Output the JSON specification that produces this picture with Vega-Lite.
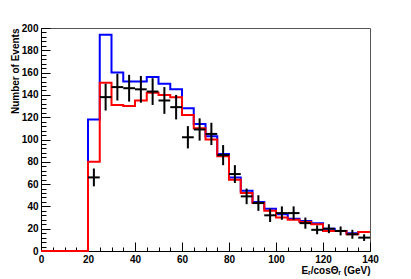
{
  "$schema": "https://vega.github.io/schema/vega-lite/v6.json",
  "width": 329,
  "height": 223,
  "autosize": {"type": "none"},
  "padding": {"left": 41, "top": 28, "right": 41, "bottom": 28},
  "background": "white",
  "config": {
    "view": {"stroke": "#555555", "strokeWidth": 1},
    "axis": {
      "grid": false,
      "domainColor": "black",
      "domainWidth": 1,
      "tickColor": "black",
      "tickWidth": 1,
      "labelFont": "Liberation Sans",
      "labelFontWeight": "bold",
      "labelFontSize": 10,
      "labelColor": "black",
      "labelFlush": false,
      "labelOverlap": false,
      "titleFont": "Liberation Sans",
      "titleFontWeight": "bold",
      "titleFontSize": 10,
      "titleColor": "black"
    }
  },
  "datasets": {
    "hist": [
      {"x": 0, "blue": 0, "red": 0},
      {"x": 5, "blue": 0, "red": 0},
      {"x": 10, "blue": 0, "red": 0},
      {"x": 15, "blue": 0, "red": 0},
      {"x": 20, "blue": 118, "red": 80},
      {"x": 25, "blue": 194, "red": 151},
      {"x": 30, "blue": 160, "red": 131},
      {"x": 35, "blue": 152, "red": 130},
      {"x": 40, "blue": 152, "red": 135},
      {"x": 45, "blue": 156, "red": 142},
      {"x": 50, "blue": 150, "red": 140},
      {"x": 55, "blue": 145, "red": 138},
      {"x": 60, "blue": 128, "red": 122},
      {"x": 65, "blue": 114, "red": 110},
      {"x": 70, "blue": 103, "red": 100},
      {"x": 75, "blue": 87, "red": 85},
      {"x": 80, "blue": 66, "red": 64},
      {"x": 85, "blue": 54, "red": 52},
      {"x": 90, "blue": 44, "red": 43},
      {"x": 95, "blue": 38, "red": 36},
      {"x": 100, "blue": 33, "red": 30},
      {"x": 105, "blue": 29, "red": 28},
      {"x": 110, "blue": 27, "red": 26},
      {"x": 115, "blue": 25, "red": 24},
      {"x": 120, "blue": 20, "red": 18},
      {"x": 125, "blue": 18, "red": 18},
      {"x": 130, "blue": 16, "red": 15},
      {"x": 135, "blue": 17, "red": 17},
      {"x": 140, "blue": 17, "red": 17}
    ],
    "pts": [
      {"c": 22.5, "lo": 20, "hi": 25, "n": 66, "ylo": 58, "yhi": 74},
      {"c": 27.5, "lo": 25, "hi": 30, "n": 138, "ylo": 126, "yhi": 150},
      {"c": 32.5, "lo": 30, "hi": 35, "n": 147, "ylo": 135, "yhi": 159},
      {"c": 37.5, "lo": 35, "hi": 40, "n": 146, "ylo": 134, "yhi": 158},
      {"c": 42.5, "lo": 40, "hi": 45, "n": 145, "ylo": 133, "yhi": 157},
      {"c": 47.5, "lo": 45, "hi": 50, "n": 143, "ylo": 131, "yhi": 155},
      {"c": 52.5, "lo": 50, "hi": 55, "n": 135, "ylo": 123, "yhi": 147},
      {"c": 57.5, "lo": 55, "hi": 60, "n": 129, "ylo": 118, "yhi": 140},
      {"c": 62.5, "lo": 60, "hi": 65, "n": 102, "ylo": 92, "yhi": 112},
      {"c": 67.5, "lo": 65, "hi": 70, "n": 109, "ylo": 99, "yhi": 119},
      {"c": 72.5, "lo": 70, "hi": 75, "n": 105, "ylo": 95, "yhi": 115},
      {"c": 77.5, "lo": 75, "hi": 80, "n": 86, "ylo": 77, "yhi": 95},
      {"c": 82.5, "lo": 80, "hi": 85, "n": 69, "ylo": 61, "yhi": 77},
      {"c": 87.5, "lo": 85, "hi": 90, "n": 49, "ylo": 42, "yhi": 56},
      {"c": 92.5, "lo": 90, "hi": 95, "n": 43, "ylo": 36, "yhi": 50},
      {"c": 97.5, "lo": 95, "hi": 100, "n": 32, "ylo": 26, "yhi": 38},
      {"c": 102.5, "lo": 100, "hi": 105, "n": 34, "ylo": 28, "yhi": 40},
      {"c": 107.5, "lo": 105, "hi": 110, "n": 34, "ylo": 28, "yhi": 40},
      {"c": 112.5, "lo": 110, "hi": 115, "n": 25, "ylo": 20, "yhi": 30},
      {"c": 117.5, "lo": 115, "hi": 120, "n": 19, "ylo": 15, "yhi": 23},
      {"c": 122.5, "lo": 120, "hi": 125, "n": 20, "ylo": 16, "yhi": 24},
      {"c": 127.5, "lo": 125, "hi": 130, "n": 18, "ylo": 14, "yhi": 22},
      {"c": 132.5, "lo": 130, "hi": 135, "n": 15, "ylo": 11, "yhi": 19},
      {"c": 137.5, "lo": 135, "hi": 140, "n": 12, "ylo": 9, "yhi": 15}
    ]
  },
  "resolve": {"axis": {"x": "independent", "y": "independent"}},
  "layer": [
    {
      "data": {"name": "hist"},
      "mark": {"type": "line", "interpolate": "step-after", "color": "#0000ff", "strokeWidth": 2},
      "encoding": {
        "x": {"field": "x", "type": "quantitative", "scale": {"domain": [0, 140], "nice": false},
          "axis": {"orient": "bottom", "values": [0, 20, 40, 60, 80, 100, 120, 140], "tickSize": -9, "labelPadding": 12,
            "title": "Eᵣ/cosΘᵣ (GeV)", "titleAnchor": "end", "titlePadding": 1}},
        "y": {"field": "blue", "type": "quantitative", "scale": {"domain": [0, 200], "nice": false},
          "axis": {"orient": "left", "values": [0, 20, 40, 60, 80, 100, 120, 140, 160, 180, 200], "tickSize": -9, "labelPadding": 12,
            "title": "Number of Events", "titleAnchor": "end", "titlePadding": 1}}
      }
    },
    {
      "data": {"name": "hist"},
      "mark": {"type": "line", "interpolate": "step-after", "color": "#ff0000", "strokeWidth": 2},
      "encoding": {
        "x": {"field": "x", "type": "quantitative",
          "axis": {"orient": "bottom", "values": [5, 10, 15, 25, 30, 35, 45, 50, 55, 65, 70, 75, 85, 90, 95, 105, 110, 115, 125, 130, 135], "tickSize": -4, "labels": false, "domain": false, "title": null}},
        "y": {"field": "red", "type": "quantitative",
          "axis": {"orient": "left", "values": [4, 8, 12, 16, 24, 28, 32, 36, 44, 48, 52, 56, 64, 68, 72, 76, 84, 88, 92, 96, 104, 108, 112, 116, 124, 128, 132, 136, 144, 148, 152, 156, 164, 168, 172, 176, 184, 188, 192, 196], "tickSize": -5, "labels": false, "domain": false, "title": null}}
      }
    },
    {
      "data": {"name": "pts"},
      "mark": {"type": "rule", "color": "black", "strokeWidth": 2},
      "encoding": {
        "x": {"field": "c", "type": "quantitative", "axis": null},
        "y": {"field": "ylo", "type": "quantitative", "axis": null},
        "y2": {"field": "yhi"}
      }
    },
    {
      "data": {"name": "pts"},
      "mark": {"type": "rule", "color": "black", "strokeWidth": 2},
      "encoding": {
        "x": {"field": "lo", "type": "quantitative", "axis": null},
        "x2": {"field": "hi"},
        "y": {"field": "n", "type": "quantitative", "axis": null}
      }
    }
  ]
}
